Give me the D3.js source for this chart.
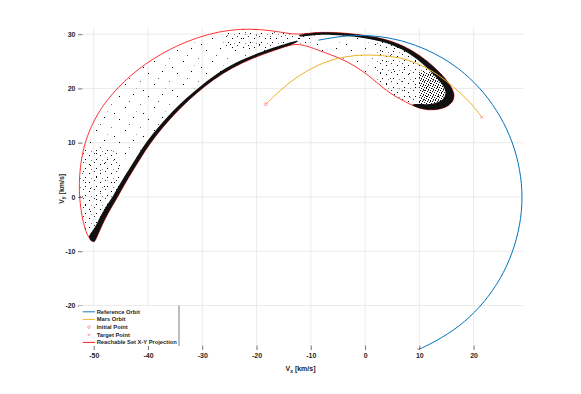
<!DOCTYPE html>
<html>
<head>
<meta charset="utf-8">
<script src="https://cdn.jsdelivr.net/npm/d3@7"></script>
<style>
  body { margin: 0; background: #fff; }
  text { font-family: "Liberation Sans", Arial, sans-serif; fill: #262626; }
</style>
</head>
<body>
<div id="chart"></div>
<script>
// axis ticks
const xTicks = [-50, -40, -30, -20, -10, 0, 10, 20];
const yTicks = [-20, -10, 0, 10, 20, 30];

// reference (Earth) orbit hodograph [Vx, Vy] km/s
const refOrbit = [
  [-8.6, 28.9], [-3.6, 29.8], [1.7, 29.8], [6.8, 28.9], [11.7, 27.1], [16.3, 24.5],
  [20.3, 21.1], [23.6, 17.1], [26.2, 12.6], [28.0, 7.7], [28.95, 2.5], [28.95, -2.7],
  [28.0, -7.8], [26.2, -12.8], [23.6, -17.3], [20.3, -21.3], [16.3, -24.7], [11.7, -27.3],
  [9.8, -28.1]
];

// Mars orbit arc
const marsOrbit = [
  [-18.3, 17.1], [-15.5, 19.8], [-13.3, 21.6], [-10, 23.7], [-7, 25], [-4.6, 25.7],
  [-0.5, 26.3], [4.6, 26.0], [8, 25.3], [11, 24], [13.5, 22.5], [16.2, 20.4],
  [18.5, 18.3], [20.2, 16.5], [21.5, 14.7]
];

const initialPoints = [[-18.3, 17.1]];
const targetPoints = [[21.5, 14.7], [9.8, -28.1]];

// reachable set X-Y projection outline
const reachBoundary = [
  [-49.9, -8.4], [-50.9, -7.6], [-51.6, -6.0], [-52.2, -3.5], [-52.6, -0.5], [-52.7, 2.5],
  [-52.5, 5.5], [-52.0, 8.5], [-51.2, 11.3], [-50.0, 14.0], [-48.5, 16.6], [-46.6, 19.0],
  [-44.4, 21.3], [-41.9, 23.5], [-39.0, 25.5], [-35.9, 27.3], [-32.5, 28.8], [-29.0, 30.0],
  [-25.0, 30.8], [-21.0, 31.0], [-17.5, 30.7], [-14.5, 30.2], [-12.3, 29.9],
  [-9.6, 30.3], [-6.4, 30.4], [-0.9, 30.0], [5, 28.9], [9.5, 26.6], [12.5, 24.2],
  [15.0, 21.7], [16.3, 19.6], [16.5, 18.3], [15.8, 17.0], [13.8, 16.1], [11.4, 16.0],
  [9.5, 16.5], [7.5, 17.5], [5.2, 18.7], [2.8, 20.5], [0, 23.0], [-4.0, 25.4],
  [-8.3, 26.9], [-12.3, 28.5],
  [-15.0, 27.6], [-18.6, 26.4], [-22.6, 24.8], [-26.3, 22.8], [-29.6, 20.4], [-32.6, 17.8],
  [-35.3, 15.1], [-37.6, 12.5], [-39.6, 9.9], [-41.3, 7.3], [-42.9, 4.7], [-44.4, 2.2],
  [-45.7, -0.2], [-46.8, -2.0], [-47.9, -4.0], [-48.9, -6.2], [-49.6, -7.8]
];

// densely sampled edge of the cloud (left crescent, inner side)
const denseBandLeft = [
  [-12.3, 28.5], [-15.0, 27.6], [-18.6, 26.4], [-22.6, 24.8], [-26.3, 22.8], [-29.6, 20.4],
  [-32.6, 17.8], [-35.3, 15.1], [-37.6, 12.5], [-39.6, 9.9], [-41.3, 7.3], [-42.9, 4.7],
  [-44.4, 2.2], [-45.7, -0.2], [-46.8, -2.0], [-47.9, -4.0], [-48.9, -6.2], [-49.6, -7.8],
  [-49.9, -8.4], [-50.6, -8.1], [-51.1, -7.2],
  [-49.8, -5.8], [-48.8, -3.5], [-47.6, -1.5], [-46.4, 0.2], [-45.1, 2.6], [-43.5, 5.1],
  [-41.9, 7.7], [-40.2, 10.3], [-38.1, 12.9], [-35.8, 15.5], [-33.0, 18.2], [-29.9, 20.8],
  [-26.6, 23.3], [-22.8, 25.3], [-18.8, 26.9], [-15.1, 28.1], [-12.3, 29.0]
];

// densely sampled edge of the cloud (right lobe, upper side and tip)
const denseBandRight = [
  [-12.3, 29.9], [-9.6, 30.3], [-6.4, 30.4], [-0.9, 30.0], [5, 28.9], [9.5, 26.6],
  [12.5, 24.2], [15.0, 21.7], [16.3, 19.6], [16.5, 18.3], [15.8, 17.0], [13.8, 16.1],
  [11.4, 16.0], [9.5, 16.5], [8.3, 17.0],
  [9.5, 17.2], [11.6, 17.0], [13.6, 17.4], [14.8, 18.4], [14.9, 19.7], [13.9, 21.2],
  [11.9, 23.4], [9.1, 25.9], [4.8, 28.35], [-1.0, 29.5], [-6.4, 29.95], [-9.6, 29.85],
  [-12.3, 29.4]
];

// zones where the scatter is denser
const mediumZones = [
  [[-53.5, -9], [-53.5, 9], [-46, 9], [-42, -9]],
  [[-26, 32], [-10, 32], [-10, 27], [-26, 27]],
  [[2, 31], [18, 31], [18, 15], [2, 15]]
];
const denseZones = [
  [[10, 23], [18, 23], [18, 15], [10, 15]]
];

const legendItems = ["Reference Orbit", "Mars Orbit", "Initial Point", "Target Point", "Reachable Set X-Y Projection"];

const width = 581, height = 394;
const blue = "#0072BD", orange = "#EDB120", red = "#FF0000", pink = "#FF7F7F";

const svg = d3.select("#chart").append("svg")
  .attr("width", width)
  .attr("height", height);

const x = d3.scaleLinear().domain([-52.9, 29.1]).range([78, 523]);
const y = d3.scaleLinear().domain([-28.2, 31.2]).range([350, 27.7]);

const defs = svg.append("defs");
defs.append("clipPath").attr("id", "plot-clip")
  .append("rect")
  .attr("x", x.range()[0] - 2).attr("y", y.range()[1])
  .attr("width", x.range()[1] - x.range()[0] + 2)
  .attr("height", y.range()[0] - y.range()[1]);

const toPx = (pts) => pts.map(([a, b]) => [x(a), y(b)]);
const smooth = d3.line().curve(d3.curveBasis);
const smoothClosed = d3.line().curve(d3.curveBasisClosed);
const poly = d3.line().curve(d3.curveLinearClosed);

defs.append("clipPath").attr("id", "reach-clip")
  .append("path").attr("d", smoothClosed(toPx(reachBoundary)));

function addPattern(id, w, h, dots) {
  const p = defs.append("pattern").attr("id", id)
    .attr("patternUnits", "userSpaceOnUse")
    .attr("width", w).attr("height", h);
  dots.forEach(([dx, dy, c]) => p.append("rect")
    .attr("x", dx).attr("y", dy).attr("width", 1).attr("height", 1).attr("fill", c));
}
addPattern("sparse", 29, 23, [[3, 4, "#000"], [17, 2, "#000"], [24, 12, "#777"], [9, 15, "#000"],
  [20, 19, "#aaa"], [13, 9, "#555"], [27, 21, "#000"]]);
addPattern("medium", 11, 9, [[1, 2, "#000"], [6, 0, "#333"], [8, 6, "#000"], [3, 7, "#888"]]);
addPattern("dense", 5, 5, [[0, 0, "#000"], [2, 1, "#000"], [4, 2, "#222"], [1, 3, "#000"],
  [3, 4, "#000"], [3, 0, "#666"]]);

// grid
const grid = svg.append("g").attr("stroke", "#e6e6e6").attr("stroke-width", 0.8);
grid.selectAll(".gx").data(xTicks).join("line")
  .attr("x1", d => x(d)).attr("x2", d => x(d))
  .attr("y1", y.range()[1]).attr("y2", y.range()[0]);
grid.selectAll(".gy").data(yTicks).join("line")
  .attr("y1", d => y(d)).attr("y2", d => y(d))
  .attr("x1", x.range()[0]).attr("x2", x.range()[1]);

const plot = svg.append("g").attr("clip-path", "url(#plot-clip)");

// scatter cloud
const cloud = plot.append("g").attr("clip-path", "url(#reach-clip)").attr("shape-rendering", "crispEdges");
cloud.append("rect")
  .attr("x", 0).attr("y", 0).attr("width", width).attr("height", height)
  .attr("fill", "url(#sparse)");
cloud.selectAll(".mz").data(mediumZones).join("path")
  .attr("d", d => poly(toPx(d))).attr("fill", "url(#medium)");
cloud.selectAll(".dz").data(denseZones).join("path")
  .attr("d", d => poly(toPx(d))).attr("fill", "url(#dense)");

// reachable set outline
plot.append("path")
  .attr("d", smoothClosed(toPx(reachBoundary)))
  .attr("fill", "none").attr("stroke", red).attr("stroke-width", 0.8);

// dense edges of the cloud
plot.selectAll(".band").data([denseBandLeft, denseBandRight]).join("path")
  .attr("d", d => smoothClosed(toPx(d)))
  .attr("fill", "#111");

// orbits
plot.append("path").attr("d", smooth(toPx(refOrbit)))
  .attr("fill", "none").attr("stroke", blue).attr("stroke-width", 1);
plot.append("path").attr("d", smooth(toPx(marsOrbit)))
  .attr("fill", "none").attr("stroke", orange).attr("stroke-width", 1);

// markers
plot.selectAll(".ip").data(initialPoints).join("circle")
  .attr("cx", d => x(d[0])).attr("cy", d => y(d[1])).attr("r", 1.5)
  .attr("fill", "none").attr("stroke", pink).attr("stroke-width", 0.7);
const cross = (cx, cy, s) => `M${cx - s},${cy - s}L${cx + s},${cy + s}M${cx - s},${cy + s}L${cx + s},${cy - s}`;
plot.selectAll(".tp").data(targetPoints).join("path")
  .attr("d", d => cross(x(d[0]), y(d[1]), 1.5))
  .attr("stroke", pink).attr("stroke-width", 0.7);

// axes
const fmt = d => String(d);
const gx = svg.append("g").attr("transform", `translate(0,${y.range()[0]})`)
  .call(d3.axisBottom(x).tickValues(xTicks).tickSize(-4.4).tickPadding(3.5).tickFormat(fmt));
const gy = svg.append("g").attr("transform", `translate(${x.range()[0]},0)`)
  .call(d3.axisLeft(y).tickValues(yTicks).tickSize(-4.4).tickPadding(2.5).tickFormat(fmt));
[gx, gy].forEach(g => {
  g.select(".domain").remove();
  g.selectAll("line").attr("stroke", "#262626").attr("stroke-width", 0.6);
  g.selectAll("text").attr("font-size", 7).attr("font-weight", "bold")
    .attr("font-family", "Liberation Sans, Arial, sans-serif").attr("fill", "#262626");
});

// axis labels
const xl = svg.append("text").attr("x", (x.range()[0] + x.range()[1]) / 2).attr("y", 371)
  .attr("text-anchor", "middle").attr("font-size", 7).attr("font-weight", "bold");
xl.append("tspan").text("V");
xl.append("tspan").attr("font-size", 5).attr("dy", 1.5).text("x");
xl.append("tspan").attr("dy", -1.5).text(" [km/s]");

const yl = svg.append("text")
  .attr("transform", `translate(63.5,${(y.range()[0] + y.range()[1]) / 2}) rotate(-90)`)
  .attr("text-anchor", "middle").attr("font-size", 7).attr("font-weight", "bold");
yl.append("tspan").text("V");
yl.append("tspan").attr("font-size", 5).attr("dy", 1.5).text("y");
yl.append("tspan").attr("dy", -1.5).text(" [km/s]");

// legend
const leg = svg.append("g");
leg.append("rect").attr("x", 79).attr("y", 306).attr("width", 100).attr("height", 40).attr("fill", "#fff");
leg.append("line").attr("x1", 179).attr("x2", 179).attr("y1", 305.5).attr("y2", 346)
  .attr("stroke", "#262626").attr("stroke-width", 0.6);
const rowY = d3.scalePoint().domain(legendItems).range([311.8, 342.4]);
legendItems.forEach((label, i) => {
  const cy = rowY(label);
  if (i === 0 || i === 1 || i === 4) {
    leg.append("line").attr("x1", 82.7).attr("x2", 95).attr("y1", cy).attr("y2", cy)
      .attr("stroke", [blue, orange, null, null, red][i]).attr("stroke-width", 0.9);
  } else if (i === 2) {
    leg.append("circle").attr("cx", 89).attr("cy", cy).attr("r", 1.3)
      .attr("fill", "none").attr("stroke", pink).attr("stroke-width", 0.7);
  } else {
    leg.append("path").attr("d", cross(89, cy, 1.3)).attr("stroke", pink).attr("stroke-width", 0.7);
  }
  leg.append("text").attr("x", 96.7).attr("y", cy).attr("dy", "0.35em")
    .attr("font-size", 5.75).attr("font-weight", "bold").text(label);
});
</script>
</body>
</html>
